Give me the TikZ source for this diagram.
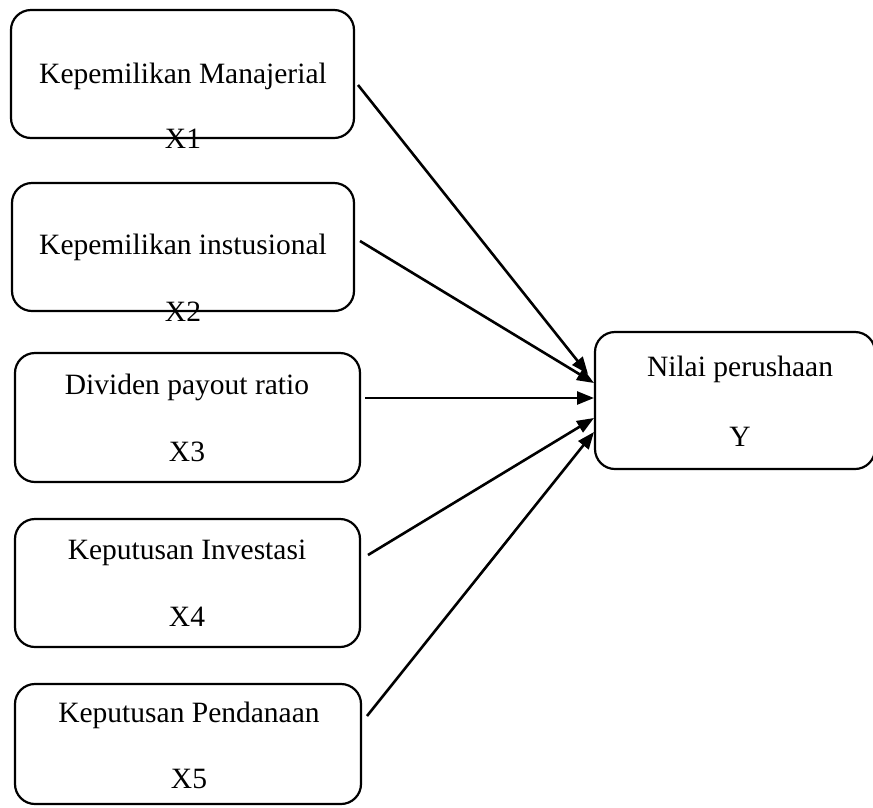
\documentclass[tikz,border=0pt]{standalone}
\usepackage{fontspec}
\setmainfont{Liberation Serif}
\usetikzlibrary{arrows.meta}
\begin{document}
\begin{tikzpicture}[x=1pt,y=-1pt,
  box/.style={draw,line width=2.2pt,rounded corners=20pt,inner sep=0pt},
  lbl/.style={font=\fontsize{29.5}{35}\selectfont,inner sep=0pt},
  link/.style={line width=2.6pt,-{Triangle[length=17pt,width=13pt]}}]
\useasboundingbox (0,0) rectangle (873,807);
% boxes
\node[box,minimum width=343pt,minimum height=128pt] (b1) at (182.5,74) {};
\node[box,minimum width=342pt,minimum height=128pt] (b2) at (183,247) {};
\node[box,minimum width=345pt,minimum height=129pt] (b3) at (187.5,417.5) {};
\node[box,minimum width=345pt,minimum height=128pt] (b4) at (187.5,583) {};
\node[box,minimum width=346pt,minimum height=120pt] (b5) at (188,744) {};
\node[box,minimum width=280pt,minimum height=137pt] (y) at (735,400.5) {};
% labels
\node[lbl] (t1) at (183,76) {Kepemilikan Manajerial};
\node[lbl] (x1) at (183,139) {X1};
\node[lbl] (t2) at (183,247) {Kepemilikan instusional};
\node[lbl] (x2) at (183,312) {X2};
\node[lbl] (t3) at (187,387) {Dividen payout ratio};
\node[lbl] (x3) at (187,452) {X3};
\node[lbl] (t4) at (187,553) {Keputusan Investasi};
\node[lbl] (x4) at (187,617) {X4};
\node[lbl] (t5) at (189,715) {Keputusan Pendanaan};
\node[lbl] (x5) at (189,779) {X5};
\node[lbl] (ty) at (740,369) {Nilai perushaan};
\node[lbl] (yy) at (740,437) {Y};
% connector ends
\coordinate (s1) at (358,85);
\coordinate (s2) at (360,241);
\coordinate (s3) at (365,398);
\coordinate (s4) at (368,555);
\coordinate (s5) at (367,716);
\coordinate (e1) at (588,374);
\coordinate (e2) at (594,383);
\coordinate (e3) at (594,398);
\coordinate (e4) at (594,418);
\coordinate (e5) at (594,432);
\draw[link] (s1) -- (e1);
\draw[link] (s2) -- (e2);
\draw[link] (s3) -- (e3);
\draw[link] (s4) -- (e4);
\draw[link] (s5) -- (e5);
\end{tikzpicture}
\end{document}
